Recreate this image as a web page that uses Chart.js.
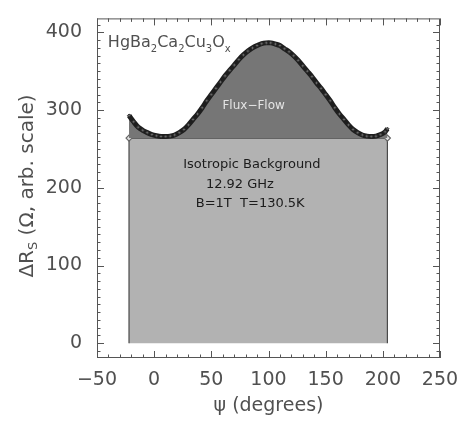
<!DOCTYPE html>
<html>
<head>
<meta charset="utf-8">
<script src="https://cdn.jsdelivr.net/npm/chart.js@4"></script>
<style>
  html, body { margin: 0; padding: 0; background: #fff; }
</style>
</head>
<body>
<canvas id="rs-chart" width="462" height="421"></canvas>
<script>
// measured curve, psi in degrees
const angles = [-22, -18, -14, -10, -6, -2, 2, 6, 10, 14, 18, 22, 26, 30, 34, 38, 42, 46, 50, 54,
  58, 62, 66, 70, 74, 78, 82, 86, 90, 94, 98, 102, 106, 110, 114, 118, 122, 126, 130, 134,
  138, 142, 146, 150, 154, 158, 162, 166, 170, 174, 178, 182, 186, 190, 194, 198, 202, 204];
const deltaRs = [293, 285, 278, 274, 271, 268.5, 267, 266, 266, 266.5, 268, 271, 275, 281, 288, 295, 303, 312, 320, 328,
  336, 344, 351, 358, 365, 371, 376, 380, 383, 385.5, 386.5, 386.5, 385, 383, 379, 375, 370, 364, 357, 350,
  343, 335, 328, 320, 312, 303, 295, 288, 281, 275, 271, 268, 266.5, 266, 266.5, 268.5, 272, 276];

// isotropic background box
const bgAngles = [-22, -22, 204, 204];
const bgValues = [0, 264, 264, 0];
const bgLevel = 264;

const xTicks = [-50, 0, 50, 100, 150, 200, 250];
const yTicks = [0, 100, 200, 300, 400];

const textColor = "#505050";
const fontFam = "'DejaVu Sans'";

const curvePoints = angles.map((a, i) => ({ x: a, y: deltaRs[i] }));
const bgPoints = bgAngles.map((a, i) => ({ x: a, y: bgValues[i] }));

function drawSubText(ctx, parts, x, y, size, sub) {
  // parts: [text, isSub]
  let cx = x;
  parts.forEach(([t, s]) => {
    ctx.font = (s ? sub : size) + "px " + fontFam;
    ctx.fillText(t, cx, s ? y + size * 0.3 : y);
    cx += ctx.measureText(t).width;
  });
  return cx - x;
}

function measureSubText(ctx, parts, size, sub) {
  let w = 0;
  parts.forEach(([t, s]) => {
    ctx.font = (s ? sub : size) + "px " + fontFam;
    w += ctx.measureText(t).width;
  });
  return w;
}

const framePlugin = {
  id: "frame",
  afterDatasetsDraw(chart) {
    const { ctx, chartArea: a, scales } = chart;
    const x = scales.x, y = scales.y;
    ctx.save();
    ctx.strokeStyle = "#555";
    ctx.lineWidth = 1;
    ctx.strokeRect(a.left + 0.5, a.top + 0.5, a.right - a.left - 1, a.bottom - a.top - 1);

    ctx.beginPath();
    for (let v = -50; v <= 250; v += 10) {
      const px = Math.round(x.getPixelForValue(v)) + 0.5;
      const len = v % 50 === 0 ? 7 : 3.5;
      ctx.moveTo(px, a.bottom); ctx.lineTo(px, a.bottom - len);
      ctx.moveTo(px, a.top); ctx.lineTo(px, a.top + len);
    }
    for (let v = -10; v <= 410; v += 10) {
      const py = Math.round(y.getPixelForValue(v)) + 0.5;
      const len = v % 100 === 0 ? 7 : 3.5;
      ctx.moveTo(a.left, py); ctx.lineTo(a.left + len, py);
      ctx.moveTo(a.right, py); ctx.lineTo(a.right - len, py);
    }
    ctx.stroke();

    // annotations
    ctx.fillStyle = textColor;
    ctx.textBaseline = "alphabetic";
    ctx.textAlign = "left";
    drawSubText(ctx, [["HgBa", 0], ["2", 1], ["Ca", 0], ["2", 1], ["Cu", 0], ["3", 1], ["O", 0], ["x", 1]],
      x.getPixelForValue(-40.5), y.getPixelForValue(381), 16, 10);

    ctx.textAlign = "center";
    ctx.textBaseline = "middle";
    ctx.fillStyle = "#e4e4e4";
    ctx.font = "12px " + fontFam;
    ctx.fillText("Flux\u2212Flow", x.getPixelForValue(87), y.getPixelForValue(305));

    ctx.fillStyle = "#1c1c1c";
    ctx.font = "13px " + fontFam;
    ctx.fillText("Isotropic Background", x.getPixelForValue(85.5), y.getPixelForValue(229.5));
    ctx.fillText("12.92 GHz", x.getPixelForValue(75), y.getPixelForValue(204.5));
    ctx.fillText("B=1T  T=130.5K", x.getPixelForValue(84), y.getPixelForValue(179.5));

    // y axis title with subscript
    const parts = [["\u0394R", 0], ["S", 1], [" (\u03A9, arb. scale)", 0]];
    const w = measureSubText(ctx, parts, 20, 13);
    ctx.translate(28, 186);
    ctx.rotate(-Math.PI / 2);
    ctx.fillStyle = textColor;
    ctx.textAlign = "left";
    ctx.textBaseline = "middle";
    drawSubText(ctx, parts, -w / 2, 0, 20, 13);
    ctx.restore();
  }
};

new Chart(document.getElementById("rs-chart"), {
  type: "scatter",
  data: {
    datasets: [
      {
        data: curvePoints,
        showLine: true,
        borderColor: "#1e1e1e",
        borderWidth: 5,
        pointRadius: 1.6,
        pointStyle: "rectRot",
        pointBorderColor: "#333",
        pointBackgroundColor: "#666",
        pointBorderWidth: 1,
        backgroundColor: "rgb(118,118,118)",
        fill: { value: bgLevel },
        tension: 0.3,
      },
      {
        data: bgPoints,
        showLine: true,
        borderColor: "#4a4a4a",
        borderWidth: 1.2,
        pointRadius: [0, 3, 3, 0],
        pointStyle: "rectRot",
        pointBorderColor: "#666",
        pointBackgroundColor: "#ddd",
        backgroundColor: "rgb(178,178,178)",
        fill: "origin",
        tension: 0,
      },
    ],
  },
  options: {
    responsive: false,
    animation: false,
    layout: { padding: { top: 10, right: 22, left: 0, bottom: 0 } },
    plugins: { legend: { display: false }, tooltip: { enabled: false } },
    scales: {
      x: {
        type: "linear",
        min: -50,
        max: 250,
        grid: { display: false },
        border: { display: false },
        afterBuildTicks: (s) => { s.ticks = xTicks.map((v) => ({ value: v })); },
        afterFit: (s) => { s.height = 63; },
        ticks: {
          padding: 3,
          color: textColor,
          font: { family: "DejaVu Sans", size: 19 },
          callback: (v) => String(v).replace("-", "\u2212"),
        },
        title: {
          display: true,
          text: "\u03C8 (degrees)",
          color: textColor,
          font: { family: "DejaVu Sans", size: 19 },
          padding: { top: 0, bottom: 4 },
        },
      },
      y: {
        type: "linear",
        min: -19,
        max: 418,
        grid: { display: false },
        border: { display: false },
        afterBuildTicks: (s) => { s.ticks = yTicks.map((v) => ({ value: v })); },
        afterFit: (s) => { s.width = 97; },
        ticks: {
          padding: 7,
          color: textColor,
          font: { family: "DejaVu Sans", size: 19 },
        },
      },
    },
  },
  plugins: [framePlugin],
});
</script>
</body>
</html>
